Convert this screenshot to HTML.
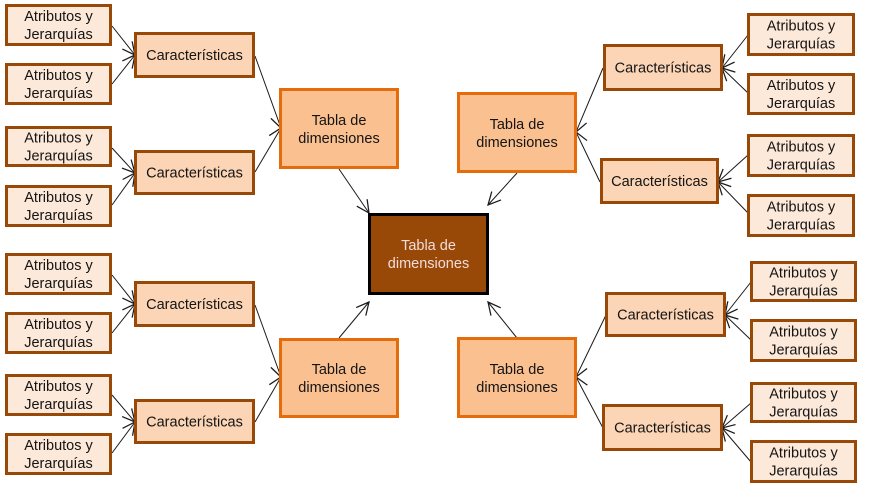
<!DOCTYPE html>
<html><head><meta charset="utf-8"><style>
html,body{margin:0;padding:0;background:#fff;}
svg{display:block;}
text{font-family:"Liberation Sans",Arial,sans-serif;font-size:14.5px;fill:#141414;text-anchor:middle;}
.a{fill:#FDE9D9;stroke:#984807;stroke-width:3;}
.c{fill:#FBD5B5;stroke:#984807;stroke-width:3;}
.t{fill:#FAC090;stroke:#E46C0A;stroke-width:3;}
.m{fill:#984807;stroke:#000;stroke-width:3;}
line{stroke:#1a1a1a;stroke-width:1;marker-end:url(#ah);}
</style></head><body>
<svg width="875" height="494" viewBox="0 0 875 494" xmlns="http://www.w3.org/2000/svg">
<defs>
<marker id="ah" markerUnits="userSpaceOnUse" markerWidth="20" markerHeight="20" viewBox="-12 -8 14 16" refX="0" refY="0" orient="auto">
<path d="M-10,-5 L0,0 L-10,5" fill="none" stroke="#1a1a1a" stroke-width="1"/>
</marker>
</defs>

<!-- connectors -->
<line x1="112" y1="26" x2="135" y2="55"/>
<line x1="112" y1="84" x2="135" y2="55"/>
<line x1="112" y1="148" x2="135" y2="173"/>
<line x1="112" y1="205" x2="135" y2="173"/>
<line x1="255" y1="56" x2="281" y2="128"/>
<line x1="255" y1="172" x2="281" y2="128"/>
<line x1="339" y1="169" x2="369" y2="213"/>

<line x1="112" y1="275" x2="135" y2="304"/>
<line x1="112" y1="333" x2="135" y2="304"/>
<line x1="112" y1="395" x2="135" y2="422"/>
<line x1="112" y1="453" x2="135" y2="422"/>
<line x1="255" y1="305" x2="281" y2="377"/>
<line x1="255" y1="422" x2="281" y2="377"/>
<line x1="339" y1="338" x2="369" y2="302"/>

<line x1="748" y1="35" x2="722" y2="68"/>
<line x1="748" y1="93" x2="722" y2="68"/>
<line x1="748" y1="155" x2="718" y2="182"/>
<line x1="748" y1="213" x2="718" y2="182"/>
<line x1="603" y1="68" x2="576" y2="132"/>
<line x1="600" y1="182" x2="576" y2="132"/>
<line x1="517" y1="173" x2="488" y2="205"/>

<line x1="751" y1="282" x2="725" y2="315"/>
<line x1="751" y1="340" x2="725" y2="315"/>
<line x1="751" y1="403" x2="722" y2="428"/>
<line x1="751" y1="462" x2="722" y2="428"/>
<line x1="606" y1="315" x2="576" y2="377"/>
<line x1="603" y1="428" x2="576" y2="377"/>
<line x1="517" y1="338" x2="488" y2="302"/>

<!-- left Atributos -->
<rect class="a" x="6.5" y="5.5" width="104" height="39"/>
<text x="58.5" y="21">Atributos y</text><text x="58.5" y="39">Jerarquías</text>
<rect class="a" x="6.5" y="64.5" width="104" height="39"/>
<text x="58.5" y="80">Atributos y</text><text x="58.5" y="98">Jerarquías</text>
<rect class="a" x="6.5" y="127.5" width="104" height="38"/>
<text x="58.5" y="142.5">Atributos y</text><text x="58.5" y="160.5">Jerarquías</text>
<rect class="a" x="6.5" y="186.5" width="104" height="39"/>
<text x="58.5" y="202">Atributos y</text><text x="58.5" y="220">Jerarquías</text>
<rect class="a" x="6.5" y="254.5" width="104" height="39"/>
<text x="58.5" y="270">Atributos y</text><text x="58.5" y="288">Jerarquías</text>
<rect class="a" x="6.5" y="313.5" width="104" height="39"/>
<text x="58.5" y="329">Atributos y</text><text x="58.5" y="347">Jerarquías</text>
<rect class="a" x="6.5" y="375.5" width="104" height="39"/>
<text x="58.5" y="391">Atributos y</text><text x="58.5" y="409">Jerarquías</text>
<rect class="a" x="6.5" y="434.5" width="104" height="39"/>
<text x="58.5" y="450">Atributos y</text><text x="58.5" y="468">Jerarquías</text>

<!-- left Características -->
<rect class="c" x="135.5" y="33.5" width="118" height="43"/>
<text x="194.5" y="60">Características</text>
<rect class="c" x="135.5" y="151.5" width="118" height="42"/>
<text x="194.5" y="177.5">Características</text>
<rect class="c" x="135.5" y="282.5" width="118" height="43"/>
<text x="194.5" y="309">Características</text>
<rect class="c" x="135.5" y="400.5" width="118" height="42"/>
<text x="194.5" y="426.5">Características</text>

<!-- left Tablas -->
<rect class="t" x="280.5" y="89.5" width="117" height="78"/>
<text x="339" y="125">Tabla de</text><text x="339" y="143">dimensiones</text>
<rect class="t" x="280.5" y="339.5" width="117" height="77"/>
<text x="339" y="374">Tabla de</text><text x="339" y="392">dimensiones</text>

<!-- central -->
<rect class="m" x="369.5" y="214.5" width="118" height="79"/>
<text x="428.5" y="250" style="fill:#F2DCDB">Tabla de</text><text x="428.5" y="268" style="fill:#F2DCDB">dimensiones</text>

<!-- right Tablas -->
<rect class="t" x="458.5" y="93.5" width="117" height="78"/>
<text x="517" y="129">Tabla de</text><text x="517" y="147">dimensiones</text>
<rect class="t" x="458.5" y="338.5" width="117" height="78"/>
<text x="517" y="374">Tabla de</text><text x="517" y="392">dimensiones</text>

<!-- right Características -->
<rect class="c" x="604.5" y="45.5" width="117" height="44"/>
<text x="663" y="72.5">Características</text>
<rect class="c" x="601.5" y="159.5" width="116" height="43"/>
<text x="659.5" y="186">Características</text>
<rect class="c" x="606.5" y="293.5" width="118" height="42"/>
<text x="665.5" y="319.5">Características</text>
<rect class="c" x="603.5" y="405.5" width="118" height="44"/>
<text x="662.5" y="432.5">Características</text>

<!-- right Atributos -->
<rect class="a" x="748.5" y="14.5" width="105" height="40"/>
<text x="801" y="30.5">Atributos y</text><text x="801" y="48.5">Jerarquías</text>
<rect class="a" x="748.5" y="74.5" width="105" height="39"/>
<text x="801" y="90">Atributos y</text><text x="801" y="108">Jerarquías</text>
<rect class="a" x="748.5" y="135.5" width="105" height="40"/>
<text x="801" y="151.5">Atributos y</text><text x="801" y="169.5">Jerarquías</text>
<rect class="a" x="748.5" y="195.5" width="105" height="40"/>
<text x="801" y="211.5">Atributos y</text><text x="801" y="229.5">Jerarquías</text>

<rect class="a" x="751.5" y="262.5" width="104" height="38"/>
<text x="803.5" y="277.5">Atributos y</text><text x="803.5" y="295.5">Jerarquías</text>
<rect class="a" x="751.5" y="320.5" width="104" height="40"/>
<text x="803.5" y="336.5">Atributos y</text><text x="803.5" y="354.5">Jerarquías</text>
<rect class="a" x="751.5" y="383.5" width="104" height="38"/>
<text x="803.5" y="398.5">Atributos y</text><text x="803.5" y="416.5">Jerarquías</text>
<rect class="a" x="751.5" y="441.5" width="104" height="40"/>
<text x="803.5" y="457.5">Atributos y</text><text x="803.5" y="475.5">Jerarquías</text>
</svg>
</body></html>
